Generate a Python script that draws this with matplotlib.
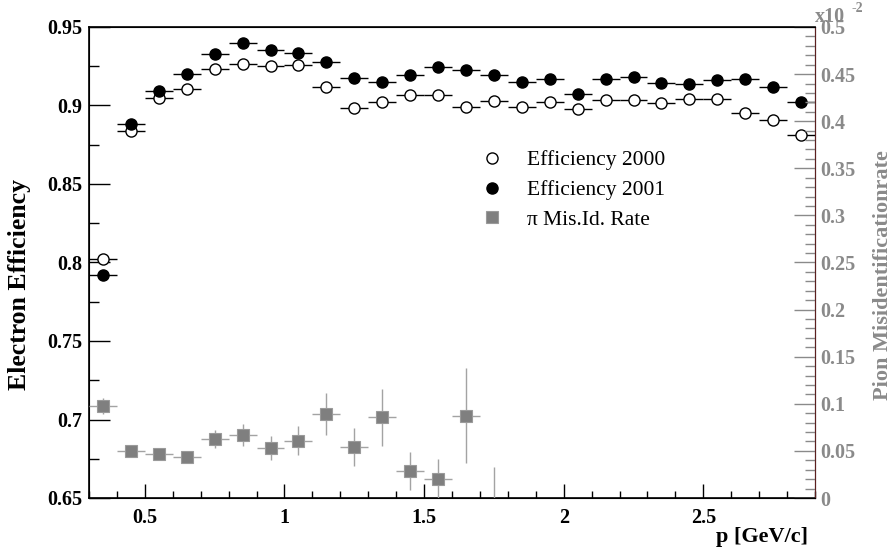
import matplotlib
matplotlib.use("Agg")

import matplotlib.pyplot as plt
import numpy as np
from matplotlib.ticker import MultipleLocator, FuncFormatter

# momentum bins (bin centres, half width 0.05 GeV/c)
p_bins = [0.35, 0.45, 0.55, 0.65, 0.75, 0.85, 0.95, 1.05, 1.15, 1.25, 1.35, 1.45, 1.55,
          1.65, 1.75, 1.85, 1.95, 2.05, 2.15, 2.25, 2.35, 2.45, 2.55, 2.65, 2.75, 2.85]
bin_half = 0.05

eff_2000 = [0.802, 0.884, 0.905, 0.9105, 0.923, 0.9266, 0.925, 0.926, 0.912, 0.8986, 0.902,
            0.907, 0.907, 0.899, 0.903, 0.8992, 0.9022, 0.898, 0.9035, 0.9035, 0.9014,
            0.904, 0.904, 0.8954, 0.891, 0.8812]
eff_2001 = [0.792, 0.888, 0.9094, 0.920, 0.9328, 0.9398, 0.9352, 0.9334, 0.9277, 0.9173,
            0.9152, 0.9194, 0.9243, 0.9224, 0.9194, 0.9148, 0.9169, 0.9071, 0.9169, 0.9184,
            0.9141, 0.9137, 0.9165, 0.9169, 0.912, 0.9024]

# pion mis-id rate (x 10^-2), only the bins with entries
pion_p = [0.35, 0.45, 0.55, 0.65, 0.75, 0.85, 0.95, 1.05, 1.15, 1.25, 1.35, 1.45, 1.55, 1.65]
pion_rate = [0.0977, 0.0499, 0.0467, 0.0438, 0.0626, 0.0669, 0.0534, 0.0608, 0.0892,
             0.0541, 0.0857, 0.029, 0.0205, 0.0874]
pion_err = [0.008, 0.003, 0.003, 0.003, 0.0097, 0.012, 0.0127, 0.0154, 0.0223, 0.0203,
            0.0303, 0.0203, 0.021, 0.0504]
# empty bin: only the error bar shows
pion_empty_p = [1.75]
pion_empty_rate = [0.0]
pion_empty_err = [0.033]

SERIF = "Liberation Serif"
GRAY = "#8a8a8a"
MARKER_GRAY = "#7f7f7f"
BAR_GRAY = "#a3a3a3"

fig = plt.figure(figsize=(8.95, 5.54), dpi=100)
ax = fig.add_axes([89 / 895, 56 / 554, 726 / 895, 471 / 554])
ax2 = ax.twinx()

ax.set_xlim(0.3, 2.9)
ax.set_ylim(0.65, 0.95)
ax2.set_ylim(0.0, 0.5)

xerr = [bin_half] * len(p_bins)
h2000 = ax.errorbar(p_bins, eff_2000, xerr=xerr, fmt="o", ms=8, mfc="white", mec="black",
                    mew=1.0, ecolor="black", elinewidth=1.0, capsize=0, zorder=3)
h2001 = ax.errorbar(p_bins, eff_2001, xerr=xerr, fmt="o", ms=8, mfc="black", mec="black",
                    ecolor="black", elinewidth=1.0, capsize=0, zorder=3)

hpion = ax2.errorbar(pion_p, pion_rate, xerr=[bin_half] * len(pion_p), yerr=pion_err,
                     fmt="s", ms=8, mfc=MARKER_GRAY, mec="#9a9a9a", mew=0.8,
                     ecolor=BAR_GRAY, elinewidth=1.0, capsize=0, zorder=3)
ax2.errorbar(pion_empty_p, pion_empty_rate, yerr=pion_empty_err, fmt="none",
             ecolor=BAR_GRAY, elinewidth=1.0, capsize=0)

fmt = FuncFormatter(lambda v, pos: f"{v:g}")

# left axis
ax.yaxis.set_major_locator(MultipleLocator(0.05))
ax.yaxis.set_minor_locator(MultipleLocator(0.025))
ax.yaxis.set_major_formatter(fmt)
ax.tick_params(axis="y", which="major", direction="in", length=15, width=1.0, pad=5,
               labelsize=14.5, right=False)
ax.tick_params(axis="y", which="minor", direction="in", length=7.5, width=1.0, right=False)

# x axis
ax.xaxis.set_major_locator(MultipleLocator(0.5))
ax.xaxis.set_minor_locator(MultipleLocator(0.1))
ax.xaxis.set_major_formatter(fmt)
ax.tick_params(axis="x", which="major", direction="in", length=10, width=1.0, pad=7.5,
               labelsize=14.5, top=False)
ax.tick_params(axis="x", which="minor", direction="in", length=5, width=1.0, top=False)

for lab in ax.get_xticklabels() + ax.get_yticklabels():
    lab.set_fontfamily(SERIF)
    lab.set_fontweight("bold")

# right axis (pion mis-id)
ax2.yaxis.set_major_locator(MultipleLocator(0.05))
ax2.yaxis.set_minor_locator(MultipleLocator(0.01))
ax2.yaxis.set_major_formatter(fmt)
ax2.tick_params(axis="y", which="major", direction="in", length=15, width=1.0, pad=4,
                labelsize=14.5, colors=GRAY)
ax2.tick_params(axis="y", which="minor", direction="in", length=7, width=1.0, colors=GRAY)
for lab in ax2.get_yticklabels():
    lab.set_fontfamily(SERIF)
    lab.set_fontweight("bold")
ax2.spines["right"].set_color("#5c2020")
ax2.spines["right"].set_linewidth(0.8)

for name in ("left", "bottom", "top"):
    ax.spines[name].set_linewidth(1.2)

fig.text(20 / 895, 1 - 285 / 554, "Electron Efficiency", rotation=90, ha="center",
         va="center", fontsize=18.5, fontweight="bold", family=SERIF)
fig.text(883 / 895, 1 - 275 / 554, "Pion Misidentificationrate", rotation=90, ha="center",
         va="center", fontsize=16, fontweight="bold", family=SERIF, color=GRAY)
fig.text(808 / 895, 1 - 537 / 554, "p [GeV/c]", ha="right", va="center", fontsize=16,
         fontweight="bold", family=SERIF)
fig.text(815 / 895, 1 - 17 / 554, "x10", ha="left", va="center", fontsize=14.5,
         fontweight="bold", family=SERIF, color=GRAY)
fig.text(852 / 895, 1 - 8 / 554, "-2", ha="left", va="center", fontsize=10,
         fontweight="bold", family=SERIF, color=GRAY)

leg = ax.legend([h2000[0], h2001[0], hpion[0]],
                ["Efficiency 2000", "Efficiency 2001", "\u03c0 Mis.Id. Rate"],
                loc="center left", bbox_to_anchor=(481 / 895, 1 - 190 / 554),
                bbox_transform=fig.transFigure, frameon=False, borderpad=0,
                borderaxespad=0, handlelength=1.0, handletextpad=1.15, labelspacing=0.45,
                prop={"family": SERIF, "size": 15.5})

fig.savefig("out.png", dpi=100)
plt.close(fig)
